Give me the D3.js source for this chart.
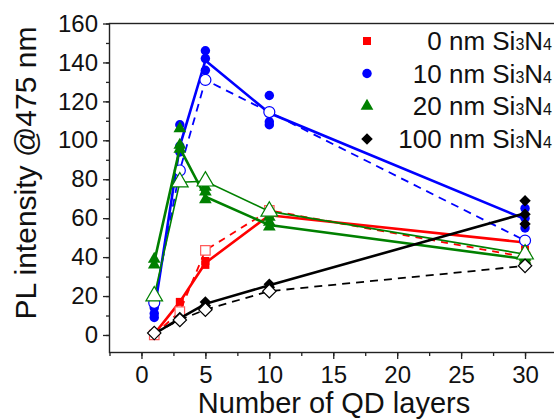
<!DOCTYPE html>
<html>
<head>
<meta charset="utf-8">
<script src="https://cdn.jsdelivr.net/npm/d3@7"></script>
<style>
  body { margin: 0; background: #fff; }
  svg { font-family: Arial, "Liberation Sans", sans-serif; }
  .axis path, .axis line { stroke: #222; stroke-width: 1.3; }
  .axis text { font-size: 24px; fill: #111; }
</style>
</head>
<body>
<div id="viz"></div>
<script>
// Number of QD layers (x positions)
const layers = [1, 3, 5, 10, 30];

// 0 nm Si3N4: repeated measurements (filled), mean line, open symbols (dashed)
const red0Filled  = [[0.5], [17], [36, 38], [61, 62], [56, 44, 41]];
const red0Mean    = [0.5, 17, 37, 61.5, 47.5];
const red0Open    = [0, 12, 43.5, 64, 40];

// 10 nm Si3N4
const blue10Filled = [[14, 11, 9], [108, 97, 94], [146, 142, 136], [123, 109.5, 108], [65, 60, 55]];
const blue10Mean   = [12, 97, 141, 114, 59.5];
const blue10Open   = [16.5, 84.5, 131, 114.5, 48.5];

// 20 nm Si3N4
const green20Filled = [[39, 36], [106, 97.5, 95.5], [76, 73.5, 69.5], [60.5, 58, 55.5], [40, 38.5]];
const green20Mean   = [37.5, 96, 71, 56.5, 39];
const green20Open   = [20, 78.5, 79, 63.5, 41.5];

// 100 nm Si3N4
const black100Filled = [[0.5], [9], [17, 15], [26, 24.5], [69, 62, 57]];
const black100Mean   = [0.5, 8.5, 16, 25.5, 62.5];
const black100Open   = [1, 7.7, 13, 22.5, 35.5];

const legendLabels = ['0', '10', '20', '100'];
const xTicks = [0, 5, 10, 15, 20, 25, 30];
const yTicks = [0, 20, 40, 60, 80, 100, 120, 140, 160];

let w = 554;
let h = 419;

let svg = d3.select('#viz')
    .append('svg')
        .attr('width', w)
        .attr('height', h);

// Escalas
let x = d3.scaleLinear().domain([-2.5, 32.5]).range([109.5, 557]);
let y = d3.scaleLinear().domain([-9, 160]).range([352.5, 23.5]);

// Minor ticks
svg.append('g')
    .attr('class', 'axis')
    .attr('transform', `translate(${x(-2.5)},0)`)
    .call(d3.axisLeft(y).tickValues(d3.range(0, 161, 10)).tickSize(3.5).tickFormat('').tickSizeOuter(0))
    .call(g => g.select('.domain').remove());
svg.append('g')
    .attr('class', 'axis')
    .attr('transform', `translate(0,${y(-9)})`)
    .call(d3.axisBottom(x).tickValues(d3.range(-2.5, 32.6, 2.5)).tickSize(3.5).tickFormat('').tickSizeOuter(0))
    .call(g => g.select('.domain').remove());

// Major ticks
svg.append('g')
    .attr('class', 'axis')
    .attr('transform', `translate(${x(-2.5)},0)`)
    .call(d3.axisLeft(y).tickValues(yTicks).tickSize(6.5).tickPadding(5).tickSizeOuter(0))
    .call(g => g.select('.domain').remove());
svg.append('g')
    .attr('class', 'axis')
    .attr('transform', `translate(0,${y(-9)})`)
    .call(d3.axisBottom(x).tickValues(xTicks).tickSize(6.5).tickPadding(7).tickSizeOuter(0))
    .call(g => g.select('.domain').remove());

// Marco
svg.append('rect')
    .attr('x', x(-2.5))
    .attr('y', y(160))
    .attr('width', x(32.5) - x(-2.5))
    .attr('height', y(-9) - y(160))
    .attr('fill', 'none')
    .attr('stroke', '#222')
    .attr('stroke-width', 1.4);

// Titulos de ejes
svg.append('text')
    .attr('x', 334)
    .attr('y', 413)
    .attr('text-anchor', 'middle')
    .style('font-size', '29px')
    .style('fill', '#111')
    .text('Number of QD layers');

svg.append('text')
    .attr('transform', 'translate(36,173) rotate(-90)')
    .attr('text-anchor', 'middle')
    .style('font-size', '30px')
    .style('fill', '#111')
    .text('PL intensity @475 nm');

// Diamante = cuadrado girado 45 grados
let diamond = {
    draw: function(ctx, size) { d3.symbolSquare.draw(ctx, size); }
};

let series = [
    { color: '#ff0000', open: '#ff5a5a', symbol: d3.symbolSquare, rot: 0, filled: red0Filled, mean: red0Mean, openVals: red0Open, openDash: '7,6', size: 64, openSize: 90 },
    { color: '#0000ff', open: '#0000ff', symbol: d3.symbolCircle, rot: 0, filled: blue10Filled, mean: blue10Mean, openVals: blue10Open, openDash: '8,6', size: 70, openSize: 95 },
    { color: '#008000', open: '#008000', symbol: d3.symbolTriangle, rot: 0, filled: green20Filled, mean: green20Mean, openVals: green20Open, openDash: null, size: 70, openSize: 120 },
    { color: '#000000', open: '#000000', symbol: diamond, rot: 45, filled: black100Filled, mean: black100Mean, openVals: black100Open, openDash: '8,6', size: 66, openSize: 90 }
];

let line = d3.line()
    .x(d => x(d[0]))
    .y(d => y(d[1]));

series.forEach(function(s) {
    let g = svg.append('g');
    let meanPts = layers.map((l, i) => [l, s.mean[i]]);
    let openPts = layers.map((l, i) => [l, s.openVals[i]]);

    // Linea de puntos abiertos
    g.append('path')
        .datum(openPts)
        .attr('d', line)
        .attr('fill', 'none')
        .attr('stroke', s.color)
        .attr('stroke-width', s.openDash ? 1.8 : 1.6)
        .attr('stroke-dasharray', s.openDash);

    // Linea promedio
    g.append('path')
        .datum(meanPts)
        .attr('d', line)
        .attr('fill', 'none')
        .attr('stroke', s.color)
        .attr('stroke-width', 2.6);

    // Marcadores rellenos (mediciones repetidas)
    let pts = [];
    layers.forEach((l, i) => s.filled[i].forEach(v => pts.push([l, v])));
    g.selectAll('.filled')
        .data(pts)
        .enter()
        .append('path')
            .attr('transform', d => `translate(${x(d[0])},${y(d[1])}) rotate(${s.rot})`)
            .attr('d', d3.symbol().type(s.symbol).size(s.size))
            .attr('fill', s.color);

    // Marcadores abiertos
    g.selectAll('.open')
        .data(openPts)
        .enter()
        .append('path')
            .attr('transform', d => `translate(${x(d[0])},${y(d[1])}) rotate(${s.rot})`)
            .attr('d', d3.symbol().type(s.symbol).size(s.openSize))
            .attr('fill', '#fff')
            .attr('stroke', s.open)
            .attr('stroke-width', 1.2);
});

// Leyenda
let legend = svg.append('g');
let legendY = [41, 73.5, 106, 139];
series.forEach(function(s, i) {
    legend.append('path')
        .attr('transform', `translate(367,${legendY[i]}) rotate(${s.rot})`)
        .attr('d', d3.symbol().type(s.symbol).size(s.size))
        .attr('fill', s.color);
    let t = legend.append('text')
        .attr('x', 552)
        .attr('y', legendY[i] + 9)
        .attr('text-anchor', 'end')
        .style('font-size', '26px')
        .style('fill', '#111');
    t.append('tspan').text(legendLabels[i] + ' nm Si');
    t.append('tspan').style('font-size', '16px').text('3');
    t.append('tspan').text('N');
    t.append('tspan').style('font-size', '16px').text('4');
});
</script>
</body>
</html>
